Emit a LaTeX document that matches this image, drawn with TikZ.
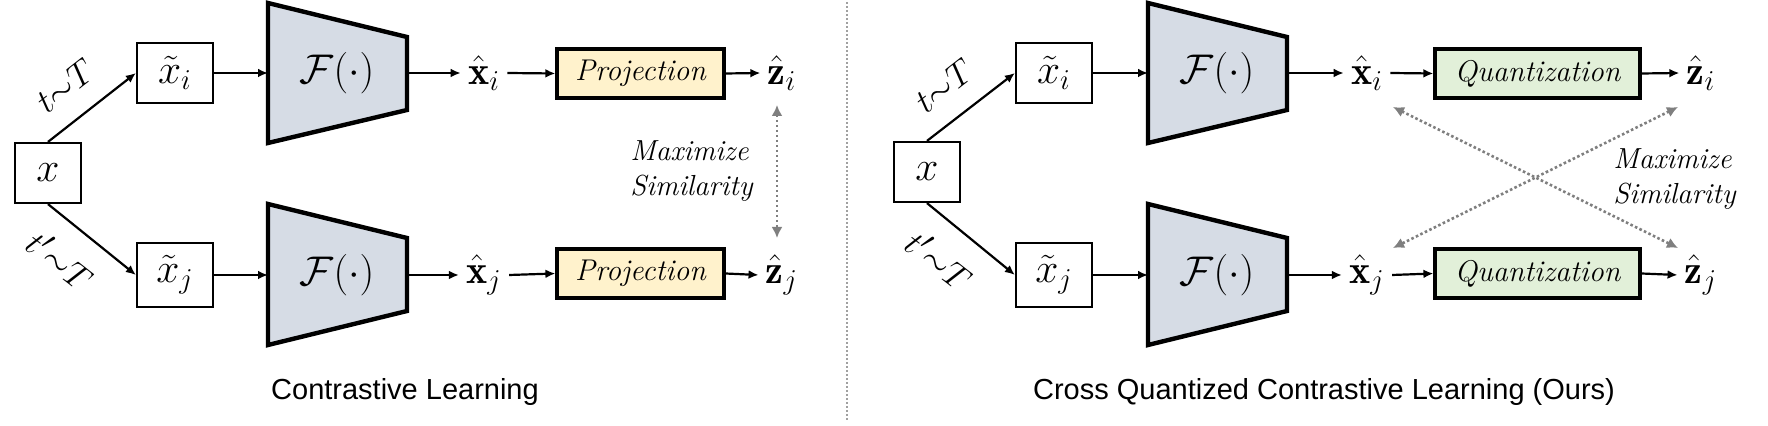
\documentclass[tikz,border=0pt]{standalone}
\usepackage{fontspec}
\usetikzlibrary{arrows.meta}
\newfontfamily\capfont{Liberation Sans}
\definecolor{encfill}{HTML}{D6DCE5}
\definecolor{projfill}{HTML}{FFF2CC}
\definecolor{quantfill}{HTML}{E2F0D9}
\definecolor{simgray}{HTML}{7F7F7F}
\definecolor{divgray}{HTML}{A0A0A0}
\begin{document}
\begin{tikzpicture}[x=0.5pt,y=-0.5pt,
  box/.style={draw, line width=1.1pt, inner sep=0pt, font=\fontsize{20}{22}\selectfont},
  enc/.style={draw, line width=2.2pt, fill=encfill, line join=miter},
  opbox/.style={draw, line width=1.6pt, inner sep=0pt, minimum height=24.5pt, font=\fontsize{15}{17}\selectfont\itshape},
  lab/.style={inner sep=3.5pt, font=\fontsize{20}{22}\selectfont},
  arr/.style={line width=1.1pt, -{Latex[length=5pt,width=4.4pt]}},
  sim/.style={simgray, line width=1.3pt, dash pattern=on 1.3pt off 1.2pt, {Latex[length=5.5pt,width=5.5pt]}-{Latex[length=5.5pt,width=5.5pt]}},
  simtxt/.style={align=left, inner sep=0pt, font=\fontsize{14.5}{17.5}\selectfont\itshape},
  captxt/.style={font=\capfont\fontsize{14.5}{17}\selectfont},
  tlab/.style={inner sep=0pt, font=\fontsize{19}{21}\selectfont},
]
\useasboundingbox (0,0) rectangle (1768,426);

% divider
\draw[divgray, line width=0.8pt, dash pattern=on 1pt off 1pt] (847,2) -- (847,422);

% ================= LEFT PANEL =================
\node[box, minimum width=33pt, minimum height=30pt] (xL) at (48,173) {$x$};
\node[box, minimum width=38pt, minimum height=30pt] (xiL) at (175,73) {$\tilde{x}_i$};
\node[box, minimum width=38pt, minimum height=32pt] (xjL) at (175,275) {$\tilde{x}_j$};

\draw[enc] (268,3) -- (407,37) -- (407,110) -- (268,143) -- cycle;
\draw[enc] (268,204) -- (407,238) -- (407,311) -- (268,345) -- cycle;
\node[lab] (FiL) at (337,73) {$\mathcal{F}(\cdot)$};
\node[lab] (FjL) at (337,275) {$\mathcal{F}(\cdot)$};
\coordinate (FiLin) at (268,73);
\coordinate (FiLout) at (407,73);
\coordinate (FjLin) at (268,275);
\coordinate (FjLout) at (407,275);

\node[lab] (hxiL) at (484,73) {$\hat{\mathbf{x}}_i$};
\node[lab] (hxjL) at (484,275) {$\hat{\mathbf{x}}_j$};
\node[opbox, fill=projfill, minimum width=83.5pt] (pIL) at (640.5,73.5) {Projection};
\node[opbox, fill=projfill, minimum width=83.5pt] (pJL) at (640.5,273.5) {Projection};
\node[lab] (ziL) at (782,73) {$\hat{\mathbf{z}}_i$};
\node[lab] (zjL) at (782,275) {$\hat{\mathbf{z}}_j$};

\draw[arr] (xL.north) -- (xiL.west);
\draw[arr] (xL.south) -- (xjL.west);
\node[tlab, rotate=38] (tL) at (65,86) {$t{\sim}T$};
\node[tlab, rotate=-38] (tpL) at (61,260) {$t'{\sim}T$};
\draw[arr] (xiL.east) -- (FiLin);
\draw[arr] (xjL.east) -- (FjLin);
\draw[arr] (FiLout) -- (hxiL.west);
\draw[arr] (FjLout) -- (hxjL.west);
\draw[arr] (hxiL.east) -- (pIL.west);
\draw[arr] (hxjL.east) -- (pJL.west);
\draw[arr] (pIL.east) -- (ziL.west);
\draw[arr] (pJL.east) -- (zjL.west);

\coordinate (simLt) at (777,105);
\coordinate (simLb) at (777,238);
\draw[sim] (simLt) -- (simLb);
\node[simtxt, anchor=west] (simLtxt) at (630,171) {Maximize\\Similarity};

\node[captxt] (capL) at (405,392) {Contrastive Learning};

% ================= RIGHT PANEL =================
\node[box, minimum width=33pt, minimum height=30pt] (xR) at (927,172) {$x$};
\node[box, minimum width=38pt, minimum height=30pt] (xiR) at (1054,73) {$\tilde{x}_i$};
\node[box, minimum width=38pt, minimum height=32pt] (xjR) at (1054,275) {$\tilde{x}_j$};

\draw[enc] (1148,3) -- (1287,37) -- (1287,110) -- (1148,143) -- cycle;
\draw[enc] (1148,204) -- (1287,238) -- (1287,311) -- (1148,345) -- cycle;
\node[lab] (FiR) at (1217,73) {$\mathcal{F}(\cdot)$};
\node[lab] (FjR) at (1217,275) {$\mathcal{F}(\cdot)$};
\coordinate (FiRin) at (1148,73);
\coordinate (FiRout) at (1287,73);
\coordinate (FjRin) at (1148,275);
\coordinate (FjRout) at (1287,275);

\node[lab] (hxiR) at (1367,73) {$\hat{\mathbf{x}}_i$};
\node[lab] (hxjR) at (1367,275) {$\hat{\mathbf{x}}_j$};
\node[opbox, fill=quantfill, minimum width=102.5pt] (qIR) at (1537.5,73.5) {Quantization};
\node[opbox, fill=quantfill, minimum width=102.5pt] (qJR) at (1537.5,273.5) {Quantization};
\node[lab] (ziR) at (1701,73) {$\hat{\mathbf{z}}_i$};
\node[lab] (zjR) at (1701,275) {$\hat{\mathbf{z}}_j$};

\draw[arr] (xR.north) -- (xiR.west);
\draw[arr] (xR.south) -- (xjR.west);
\node[tlab, rotate=38] (tR) at (944,86) {$t{\sim}T$};
\node[tlab, rotate=-38] (tpR) at (940,260) {$t'{\sim}T$};
\draw[arr] (xiR.east) -- (FiRin);
\draw[arr] (xjR.east) -- (FjRin);
\draw[arr] (FiRout) -- (hxiR.west);
\draw[arr] (FjRout) -- (hxjR.west);
\draw[arr] (hxiR.east) -- (qIR.west);
\draw[arr] (hxjR.east) -- (qJR.west);
\draw[arr] (qIR.east) -- (ziR.west);
\draw[arr] (qJR.east) -- (zjR.west);

\coordinate (cxi) at (1393,107);
\coordinate (czj) at (1678,248);
\coordinate (czi) at (1678,107);
\coordinate (cxj) at (1393,248);
\draw[sim] (cxi) -- (czj);
\draw[sim] (czi) -- (cxj);
\node[simtxt, anchor=west] (simRtxt) at (1613,179) {Maximize\\Similarity};

\node[captxt] (capR) at (1324,392) {Cross Quantized Contrastive Learning (Ours)};
\end{tikzpicture}
\end{document}
